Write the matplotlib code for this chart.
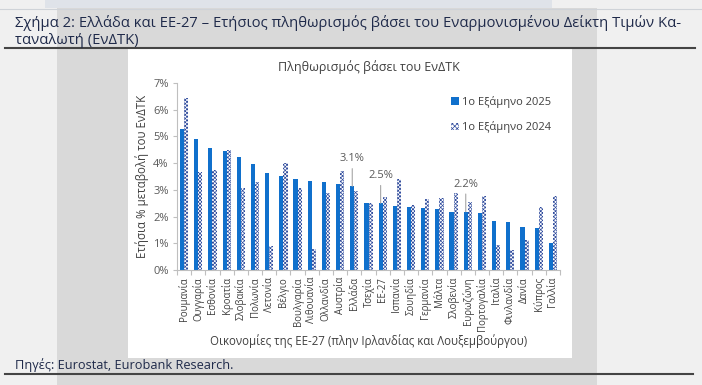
import matplotlib
matplotlib.use("Agg")
import matplotlib.pyplot as plt
from matplotlib.patches import Rectangle, Patch
from matplotlib.lines import Line2D
import numpy as np

plt.rcParams['font.family'] = ['Open Sans', 'DejaVu Sans']
plt.rcParams['hatch.linewidth'] = 0.5

categories = ["Ρουμανία", "Ουγγαρία", "Εσθονία", "Κροατία", "Σλοβακία", "Πολωνία",
              "Λετονία", "Βέλγιο", "Βουλγαρία", "Λιθουανία", "Ολλανδία", "Αυστρία",
              "Ελλάδα", "Τσεχία", "ΕΕ-27", "Ισπανία", "Σουηδία", "Γερμανία", "Μάλτα",
              "Σλοβενία", "Ευρωζώνη", "Πορτογαλία", "Ιταλία", "Φινλανδία", "Δανία",
              "Κύπρος", "Γαλλία"]
h1_2025 = [5.28, 4.91, 4.58, 4.45, 4.24, 3.95, 3.64, 3.51, 3.41, 3.34, 3.28, 3.23,
           3.13, 2.51, 2.50, 2.41, 2.37, 2.32, 2.30, 2.18, 2.18, 2.14, 1.84, 1.80,
           1.61, 1.59, 1.01]
h1_2024 = [6.44, 3.66, 3.73, 4.50, 3.06, 3.28, 0.88, 4.00, 3.06, 0.80, 2.90, 3.70,
           2.95, 2.51, 2.73, 3.40, 2.43, 2.64, 2.71, 2.88, 2.53, 2.78, 0.93, 0.74,
           1.11, 2.35, 2.78]
yticks = [0, 1, 2, 3, 4, 5, 6, 7]
annotations = {"Ελλάδα": "3.1%", "ΕΕ-27": "2.5%", "Ευρωζώνη": "2.2%"}

W, H = 702, 385
fig = plt.figure(figsize=(W / 100, H / 100), dpi=100)
fig.patch.set_facecolor("#f0f0f0")


def rect(x0, y0, x1, y1, color):
    fig.patches.append(Rectangle((x0 / W, 1 - y1 / H), (x1 - x0) / W, (y1 - y0) / H,
                                 transform=fig.transFigure, facecolor=color,
                                 edgecolor="none", zorder=-10))


def hline(x0, x1, y, color="#444444", lw=1.5):
    fig.add_artist(Line2D([x0 / W, x1 / W], [1 - y / H, 1 - y / H],
                          transform=fig.transFigure, color=color, lw=lw, zorder=-5))


rect(45, 0, 552, 8, "#dfe3e9")
rect(57, 8, 597, 385, "#d9d9d9")
rect(128, 48, 572, 358, "#ffffff")
hline(0, 702, 8.5, "#cfd3d8", 0.8)
hline(5, 695, 47.5)
hline(5, 693, 373.5)

tc = "#1f2a4a"
fig.text(15 / W, 1 - 23 / H,
         "Σχήμα 2: Ελλάδα και ΕΕ-27 – Ετήσιος πληθωρισμός βάσει του Εναρμονισμένου Δείκτη Τιμών Κα-",
         fontsize=10.6, color=tc, va="center", ha="left")
fig.text(15 / W, 1 - 40 / H, "ταναλωτή (ΕνΔΤΚ)", fontsize=10.6, color=tc, va="center", ha="left")
fig.text(15 / W, 1 - 365 / H, "Πηγές: Eurostat, Eurobank Research.", fontsize=9.2,
         color=tc, va="center", ha="left")

# axes
ax = fig.add_axes([177 / W, 1 - 270 / H, (560 - 177) / W, (270 - 83) / H])
ax.set_facecolor("none")
n = len(categories)
x = np.arange(n)
bw = 0.29
blue = "#1070cc"
navy = "#2e4a9c"
ax.bar(x - bw / 2, h1_2025, width=bw, color=blue, linewidth=0, label="1ο Εξάμηνο 2025")
ax.bar(x + bw / 2, h1_2024, width=bw, facecolor="white", edgecolor=navy, hatch="xxxxxxxxx",
       linewidth=0, label="1ο Εξάμηνο 2024")
ax.set_xlim(-0.5, n - 0.5)
ax.set_ylim(0, 7)
ax.set_yticks(yticks)
ax.set_yticklabels([f"{t}%" for t in yticks])
ax.set_xticks(x)
ax.set_xticklabels(categories, rotation=90, fontsize=6.9, color="#404040")
ax.set_xticks(np.arange(n + 1) - 0.5, minor=True)
ax.tick_params(axis="x", which="major", length=0, pad=5)
ax.tick_params(axis="x", which="minor", length=3.5, color="#bfbfbf", width=0.8)
ax.tick_params(axis="y", length=3, color="#bfbfbf", width=0.8, labelsize=8,
               labelcolor="#595959", pad=3)
for s in ["top", "right"]:
    ax.spines[s].set_visible(False)
for s in ["left", "bottom"]:
    ax.spines[s].set_color("#bfbfbf")
    ax.spines[s].set_linewidth(0.8)

ax.set_ylabel("Ετήσια % μεταβολή του ΕνΔΤΚ", fontsize=8.3, color="#404040", labelpad=3)
ax.set_xlabel("Οικονομίες της ΕΕ-27 (πλην Ιρλανδίας και Λουξεμβούργου)", fontsize=8.3,
              color="#404040", labelpad=2)
ax.set_title("Πληθωρισμός βάσει του ΕνΔΤΚ", fontsize=9, color="#404040", pad=9)

for cat, lab in annotations.items():
    i = categories.index(cat)
    v = h1_2025[i]
    ax.annotate(lab, xy=(i - bw / 2, v), xytext=(i - bw / 2, v + 0.82),
                ha="center", va="bottom", fontsize=8, color="#595959",
                arrowprops=dict(arrowstyle="-", color="#a6a6a6", lw=0.8,
                                shrinkA=1, shrinkB=0))

handles = [Patch(facecolor=blue, edgecolor="none"),
           Patch(facecolor="white", edgecolor=navy, hatch="xxxxxxx", linewidth=0)]
fig.legend(handles, ["1ο Εξάμηνο 2025", "1ο Εξάμηνο 2024"], loc="upper right",
           bbox_to_anchor=(561 / W, 1 - 86 / H), frameon=False, fontsize=8,
           handlelength=0.7, handleheight=0.7, handletextpad=0.3, labelspacing=1.2,
           labelcolor="#404040")

fig.savefig("out.png", dpi=100, facecolor=fig.get_facecolor())
